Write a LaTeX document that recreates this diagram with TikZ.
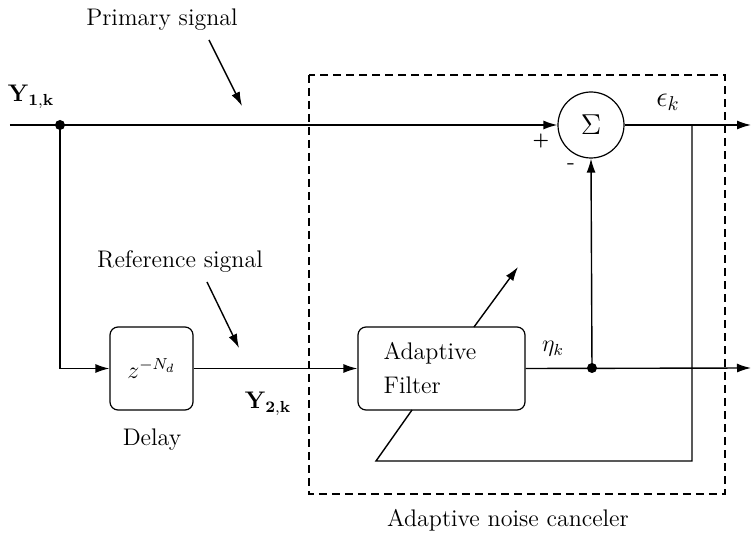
\documentclass[tikz,border=0pt]{standalone}
\usetikzlibrary{arrows.meta}
\begin{document}
\begin{tikzpicture}[x=0.5pt,y=-0.5pt, font=\large,
  >={Latex[length=7pt,width=4.5pt]}, line width=0.7pt,
  blockbox/.style={draw, rounded corners=4pt, line width=0.6pt, inner sep=0pt},
  dotnode/.style={circle, fill, inner sep=0pt, minimum size=5pt},
  lbl/.style={inner sep=1pt}]
\useasboundingbox (0,0) rectangle (752,535);
% dashed enclosure
\draw[dashed, line width=0.6pt, dash pattern=on 4pt off 2.5pt] (309,75) rectangle (725,494);
% nodes
\node[dotnode] (d1) at (60,125) {};
\node[draw, circle, minimum size=33pt, inner sep=0pt, line width=0.6pt, font=\Large] (sum) at (591,125) {$\Sigma$};
\node[blockbox, minimum width=41.5pt, minimum height=41.5pt] (delay) at (151.5,368.5) {$z^{-N_d}$};
\node[blockbox, minimum width=83.5pt, minimum height=41.5pt] (filt) at (441.5,368.5) {};
\node[anchor=base west, inner sep=0pt] (filtA) at (383,360) {Adaptive};
\node[anchor=base west, inner sep=0pt] (filtB) at (383,394) {Filter};
\node[dotnode] (d2) at (592,368) {};
% coordinates
\coordinate (in1) at (10,125);
\coordinate (br) at (692,125);
\coordinate (out1) at (751,125);
\coordinate (out2) at (751,368);
\coordinate (fb1) at (692,461);
\coordinate (fb2) at (376,461);
\coordinate (fbend) at (412,410);
\coordinate (adS) at (474,327);
\coordinate (adE) at (518,267);
\coordinate (psS) at (209,40);
\coordinate (psE) at (242,106);
\coordinate (rsS) at (207,282);
\coordinate (rsE) at (239,348);
% labels
\node[lbl] (ps) at (162,20) {Primary signal};
\node[lbl] (rs) at (180,262) {Reference signal};
\node[lbl] (y1) at (31,97) {$\mathbf{Y_{1,k}}$};
\node[lbl] (y2) at (268,404) {$\mathbf{Y_{2,k}}$};
\node[lbl, font=\Large] (eps) at (668,102) {$\epsilon_k$};
\node[lbl] (eta) at (553,349) {$\eta_k$};
\node[lbl, font=\small] (plus) at (541,141) {\textbf{+}};
\node[lbl] (minus) at (571,167) {-};
\node[lbl] (dl) at (152,440) {Delay};
\node[lbl] (anc) at (508,520) {Adaptive noise canceler};
% connectors
\draw[->] (in1) -- (sum.west);
\draw[->] (d1.center) |- (delay.west);
\draw[->] (delay.east) -- (filt.west);
\draw[->] (filt.east) -- (out2);
\draw[->] (d2.center) -- (sum.south);
\draw[->] (sum.east) -- (out1);
\draw (br) -- (fb1) -- (fb2) -- (fbend);
\draw[->] (adS) -- (adE);
\draw[->] (psS) -- (psE);
\draw[->] (rsS) -- (rsE);
\end{tikzpicture}
\end{document}
